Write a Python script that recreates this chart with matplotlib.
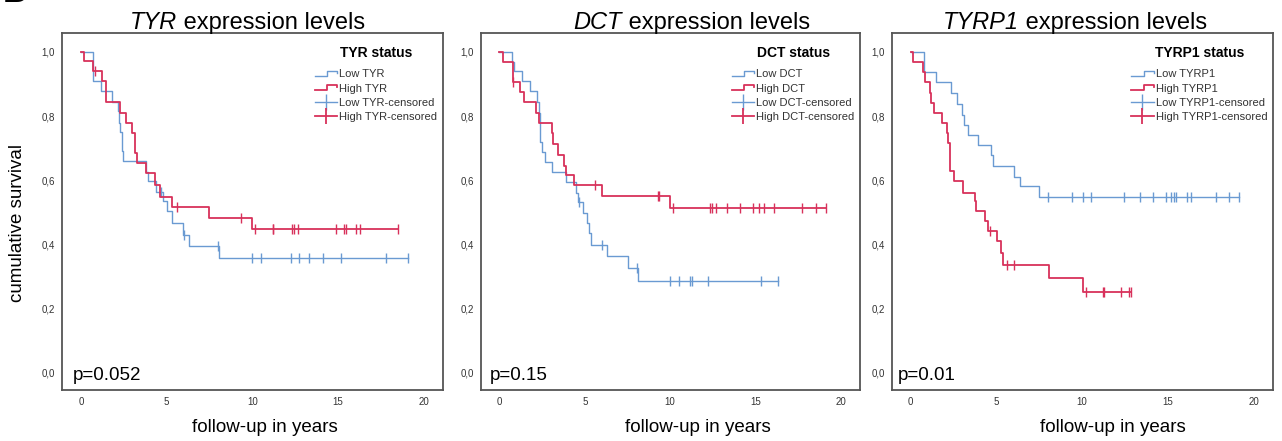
import numpy as np
import matplotlib
matplotlib.use('Agg')
import matplotlib.pyplot as plt
from matplotlib.lines import Line2D
from matplotlib.legend_handler import HandlerBase

plt.rcParams['font.family'] = ['Liberation Sans', 'DejaVu Sans']

# ---------------- data ----------------
genes = ['TYR', 'DCT', 'TYRP1']
p_values = ['p=0.052', 'p=0.15', 'p=0.01']
x_ticks = [0, 5, 10, 15, 20]
y_ticks = [0.0, 0.2, 0.4, 0.6, 0.8, 1.0]
y_tick_labels = ['0,0', '0,2', '0,4', '0,6', '0,8', '1,0']

# TYR
tyr_low_times = [0.68, 1.2, 1.83, 2.14, 2.2, 2.3, 2.38, 2.47, 3.79, 3.93, 4.4, 4.8, 5.03, 5.34, 5.97, 6.32, 8.07]
tyr_low_surv = [0.91, 0.877, 0.845, 0.815, 0.78, 0.75, 0.69, 0.66, 0.625, 0.598, 0.565, 0.535, 0.504, 0.468, 0.431, 0.397, 0.358]
tyr_low_cens = [4.66, 6.03, 8.0, 10.0, 10.5, 12.23, 12.7, 13.32, 14.1, 15.15, 17.78, 19.09]
tyr_high_times = [0.2, 0.72, 1.24, 1.44, 2.27, 2.66, 3.0, 3.15, 3.3, 3.77, 4.31, 4.61, 5.29, 7.46, 10.01]
tyr_high_surv = [0.972, 0.941, 0.91, 0.843, 0.809, 0.778, 0.747, 0.684, 0.653, 0.622, 0.586, 0.549, 0.518, 0.484, 0.447]
tyr_high_cens = [0.81, 5.58, 9.33, 10.15, 11.18, 11.23, 12.34, 12.42, 12.69, 14.87, 15.32, 15.45, 16.04, 16.27, 18.52]

# DCT
dct_low_times = [0.76, 0.85, 1.3, 1.8, 2.19, 2.3, 2.36, 2.52, 2.66, 3.1, 3.9, 4.49, 4.6, 4.92, 5.11, 5.25, 5.35, 6.32, 7.51, 8.1]
dct_low_surv = [0.97, 0.94, 0.908, 0.877, 0.845, 0.81, 0.721, 0.689, 0.658, 0.627, 0.596, 0.562, 0.534, 0.498, 0.466, 0.435, 0.40, 0.364, 0.326, 0.287]
dct_low_cens = [4.68, 6.0, 8.04, 9.99, 10.52, 11.16, 11.26, 12.23, 15.32, 16.33]
dct_high_times = [0.2, 0.78, 1.23, 1.45, 2.13, 2.32, 3.07, 3.16, 3.45, 3.8, 3.9, 4.39, 6.03, 9.99]
dct_high_surv = [0.97, 0.907, 0.876, 0.845, 0.81, 0.778, 0.747, 0.712, 0.679, 0.646, 0.617, 0.586, 0.551, 0.513]
dct_high_cens = [0.8, 5.6, 9.31, 9.35, 10.15, 12.33, 12.45, 12.68, 13.35, 14.09, 14.83, 15.22, 15.49, 16.1, 17.74, 18.52, 19.12]

# TYRP1
tyrp1_low_times = [0.78, 1.46, 2.33, 2.69, 3.01, 3.13, 3.33, 3.91, 4.69, 4.82, 6.0, 6.38, 7.51]
tyrp1_low_surv = [0.939, 0.905, 0.872, 0.837, 0.804, 0.773, 0.742, 0.711, 0.68, 0.646, 0.612, 0.581, 0.548]
tyrp1_low_cens = [7.98, 9.38, 10.04, 10.54, 12.41, 13.35, 14.14, 14.86, 15.2, 15.33, 15.49, 16.09, 16.35, 17.82, 18.54, 19.12]
tyrp1_high_times = [0.15, 0.74, 0.83, 1.13, 1.19, 1.38, 1.81, 2.1, 2.2, 2.29, 2.55, 3.07, 3.75, 3.8, 4.34, 4.49, 5.02, 5.27, 5.37, 8.07, 10.04]
tyrp1_high_surv = [0.97, 0.939, 0.905, 0.872, 0.84, 0.81, 0.778, 0.747, 0.716, 0.628, 0.597, 0.562, 0.535, 0.503, 0.472, 0.441, 0.41, 0.374, 0.337, 0.296, 0.252]
tyrp1_high_cens = [4.63, 5.6, 6.0, 10.21, 11.22, 11.26, 12.27, 12.7, 12.84]

panels = [
    (tyr_low_times, tyr_low_surv, tyr_low_cens, tyr_high_times, tyr_high_surv, tyr_high_cens),
    (dct_low_times, dct_low_surv, dct_low_cens, dct_high_times, dct_high_surv, dct_high_cens),
    (tyrp1_low_times, tyrp1_low_surv, tyrp1_low_cens, tyrp1_high_times, tyrp1_high_surv, tyrp1_high_cens),
]

# ---------------- style / layout ----------------
BLUE = '#6a9ad2'
RED = '#d8315b'
W, H = 1282, 441
axes_px = [(62, 443), (480.7, 860), (891.7, 1273)]
top_px, bot_px = 33, 390
title_x = [0.486, 0.557, 0.481]
xlabel_x = [0.533, 0.573, 0.58]
p_x = [0.029, 0.023, 0.017]


class StepHandler(HandlerBase):
    def create_artists(self, legend, orig_handle, xdescent, ydescent,
                       width, height, fontsize, trans):
        x0, y0 = -xdescent, -ydescent
        xm = x0 + 0.55 * width
        xs = [x0, xm, xm, x0 + width, x0 + width]
        ys = [y0 + 0.15 * height, y0 + 0.15 * height, y0 + 0.8 * height,
              y0 + 0.8 * height, y0 + 0.55 * height]
        ln = Line2D(xs, ys, color=orig_handle.get_color(),
                    lw=orig_handle.get_linewidth())
        ln.set_transform(trans)
        return [ln]


def km(ax, times, surv, cens, color, lw):
    end = max(cens) if len(cens) else times[-1]
    t = np.concatenate([[0.0], times, [end]])
    s = np.concatenate([[1.0], surv, [surv[-1]]])
    line, = ax.step(t, s, where='post', color=color, lw=lw)
    c = np.asarray(cens)
    idx = np.searchsorted(np.concatenate([[0.0], times]), c, side='right') - 1
    s_c = np.concatenate([[1.0], surv])[idx]
    ax.plot(c, s_c, ls='none', marker='|', markersize=7, mew=1.0, color=color)
    return line


fig = plt.figure(figsize=(W / 100, H / 100), dpi=100)
renderer = fig.canvas.get_renderer()
fig.text(0.002, 1 - 2.5 / H, 'B', fontsize=24, fontweight='bold', va='baseline', ha='left')

for i, (gene, pv, data) in enumerate(zip(genes, p_values, panels)):
    l, r = axes_px[i]
    axw = r - l
    ax = fig.add_axes([l / W, (H - bot_px) / H, axw / W, (bot_px - top_px) / H])
    lt, ls_, lc, ht, hs, hc = data
    low_line = km(ax, lt, ls_, lc, BLUE, 1.0)
    high_line = km(ax, ht, hs, hc, RED, 1.3)

    ax.set_xlim(-1.1, 21.12)
    ax.set_ylim(-0.053, 1.059)
    ax.set_xticks(x_ticks)
    ax.set_xticklabels([str(v) for v in x_ticks])
    ax.set_yticks(y_ticks)
    ax.set_yticklabels(y_tick_labels)
    ax.tick_params(length=0, labelsize=7, colors='#333333', pad=5)
    ax.tick_params(axis='x', pad=5)
    for sp in ax.spines.values():
        sp.set_color('#555555')
        sp.set_linewidth(1.3)

    # title: italic gene name + regular text, centred together
    t1 = ax.text(0, 1.011, gene, transform=ax.transAxes, ha='left',
                 va='baseline', fontsize=17, style='italic')
    t2 = ax.text(0, 1.011, ' expression levels', transform=ax.transAxes,
                 ha='left', va='baseline', fontsize=17)
    w1 = t1.get_window_extent(renderer).width
    w2 = t2.get_window_extent(renderer).width
    start = title_x[i] * axw - (w1 + w2) / 2.0
    t1.set_x(start / axw)
    t2.set_x((start + w1) / axw)

    ax.text(xlabel_x[i], -0.106, 'follow-up in years', transform=ax.transAxes,
            ha='center', va='center', fontsize=13.5)
    ax.text(p_x[i], 0.028, pv, transform=ax.transAxes, ha='left',
            va='baseline', fontsize=13.5)
    if i == 0:
        ax.text((18 - l) / axw, (bot_px - 223) / (bot_px - top_px),
                'cumulative survival', transform=ax.transAxes, rotation=90,
                ha='center', va='center', fontsize=13.5)

    low_c = Line2D([], [], color=BLUE, lw=1.0, marker='|', markersize=11, mew=1.0)
    high_c = Line2D([], [], color=RED, lw=1.3, marker='|', markersize=11, mew=1.3)
    leg = ax.legend([low_line, high_line, low_c, high_c],
                    ['Low %s' % gene, 'High %s' % gene,
                     'Low %s-censored' % gene, 'High %s-censored' % gene],
                    handler_map={low_line: StepHandler(), high_line: StepHandler()},
                    loc='upper right', bbox_to_anchor=(1.0, 1.0 - 7.0 / 357),
                    frameon=False,
                    fontsize=8, numpoints=1, handlelength=2.0, handletextpad=0.2,
                    labelspacing=0.38, borderaxespad=0.2, borderpad=0.3,
                    title='%s status' % gene,
                    title_fontproperties={'weight': 'bold', 'size': 10})
    for txt in leg.get_texts():
        txt.set_color('#333333')
    try:
        leg._legend_box.sep = 7
    except Exception:
        pass

fig.savefig('out.png', dpi=100)
